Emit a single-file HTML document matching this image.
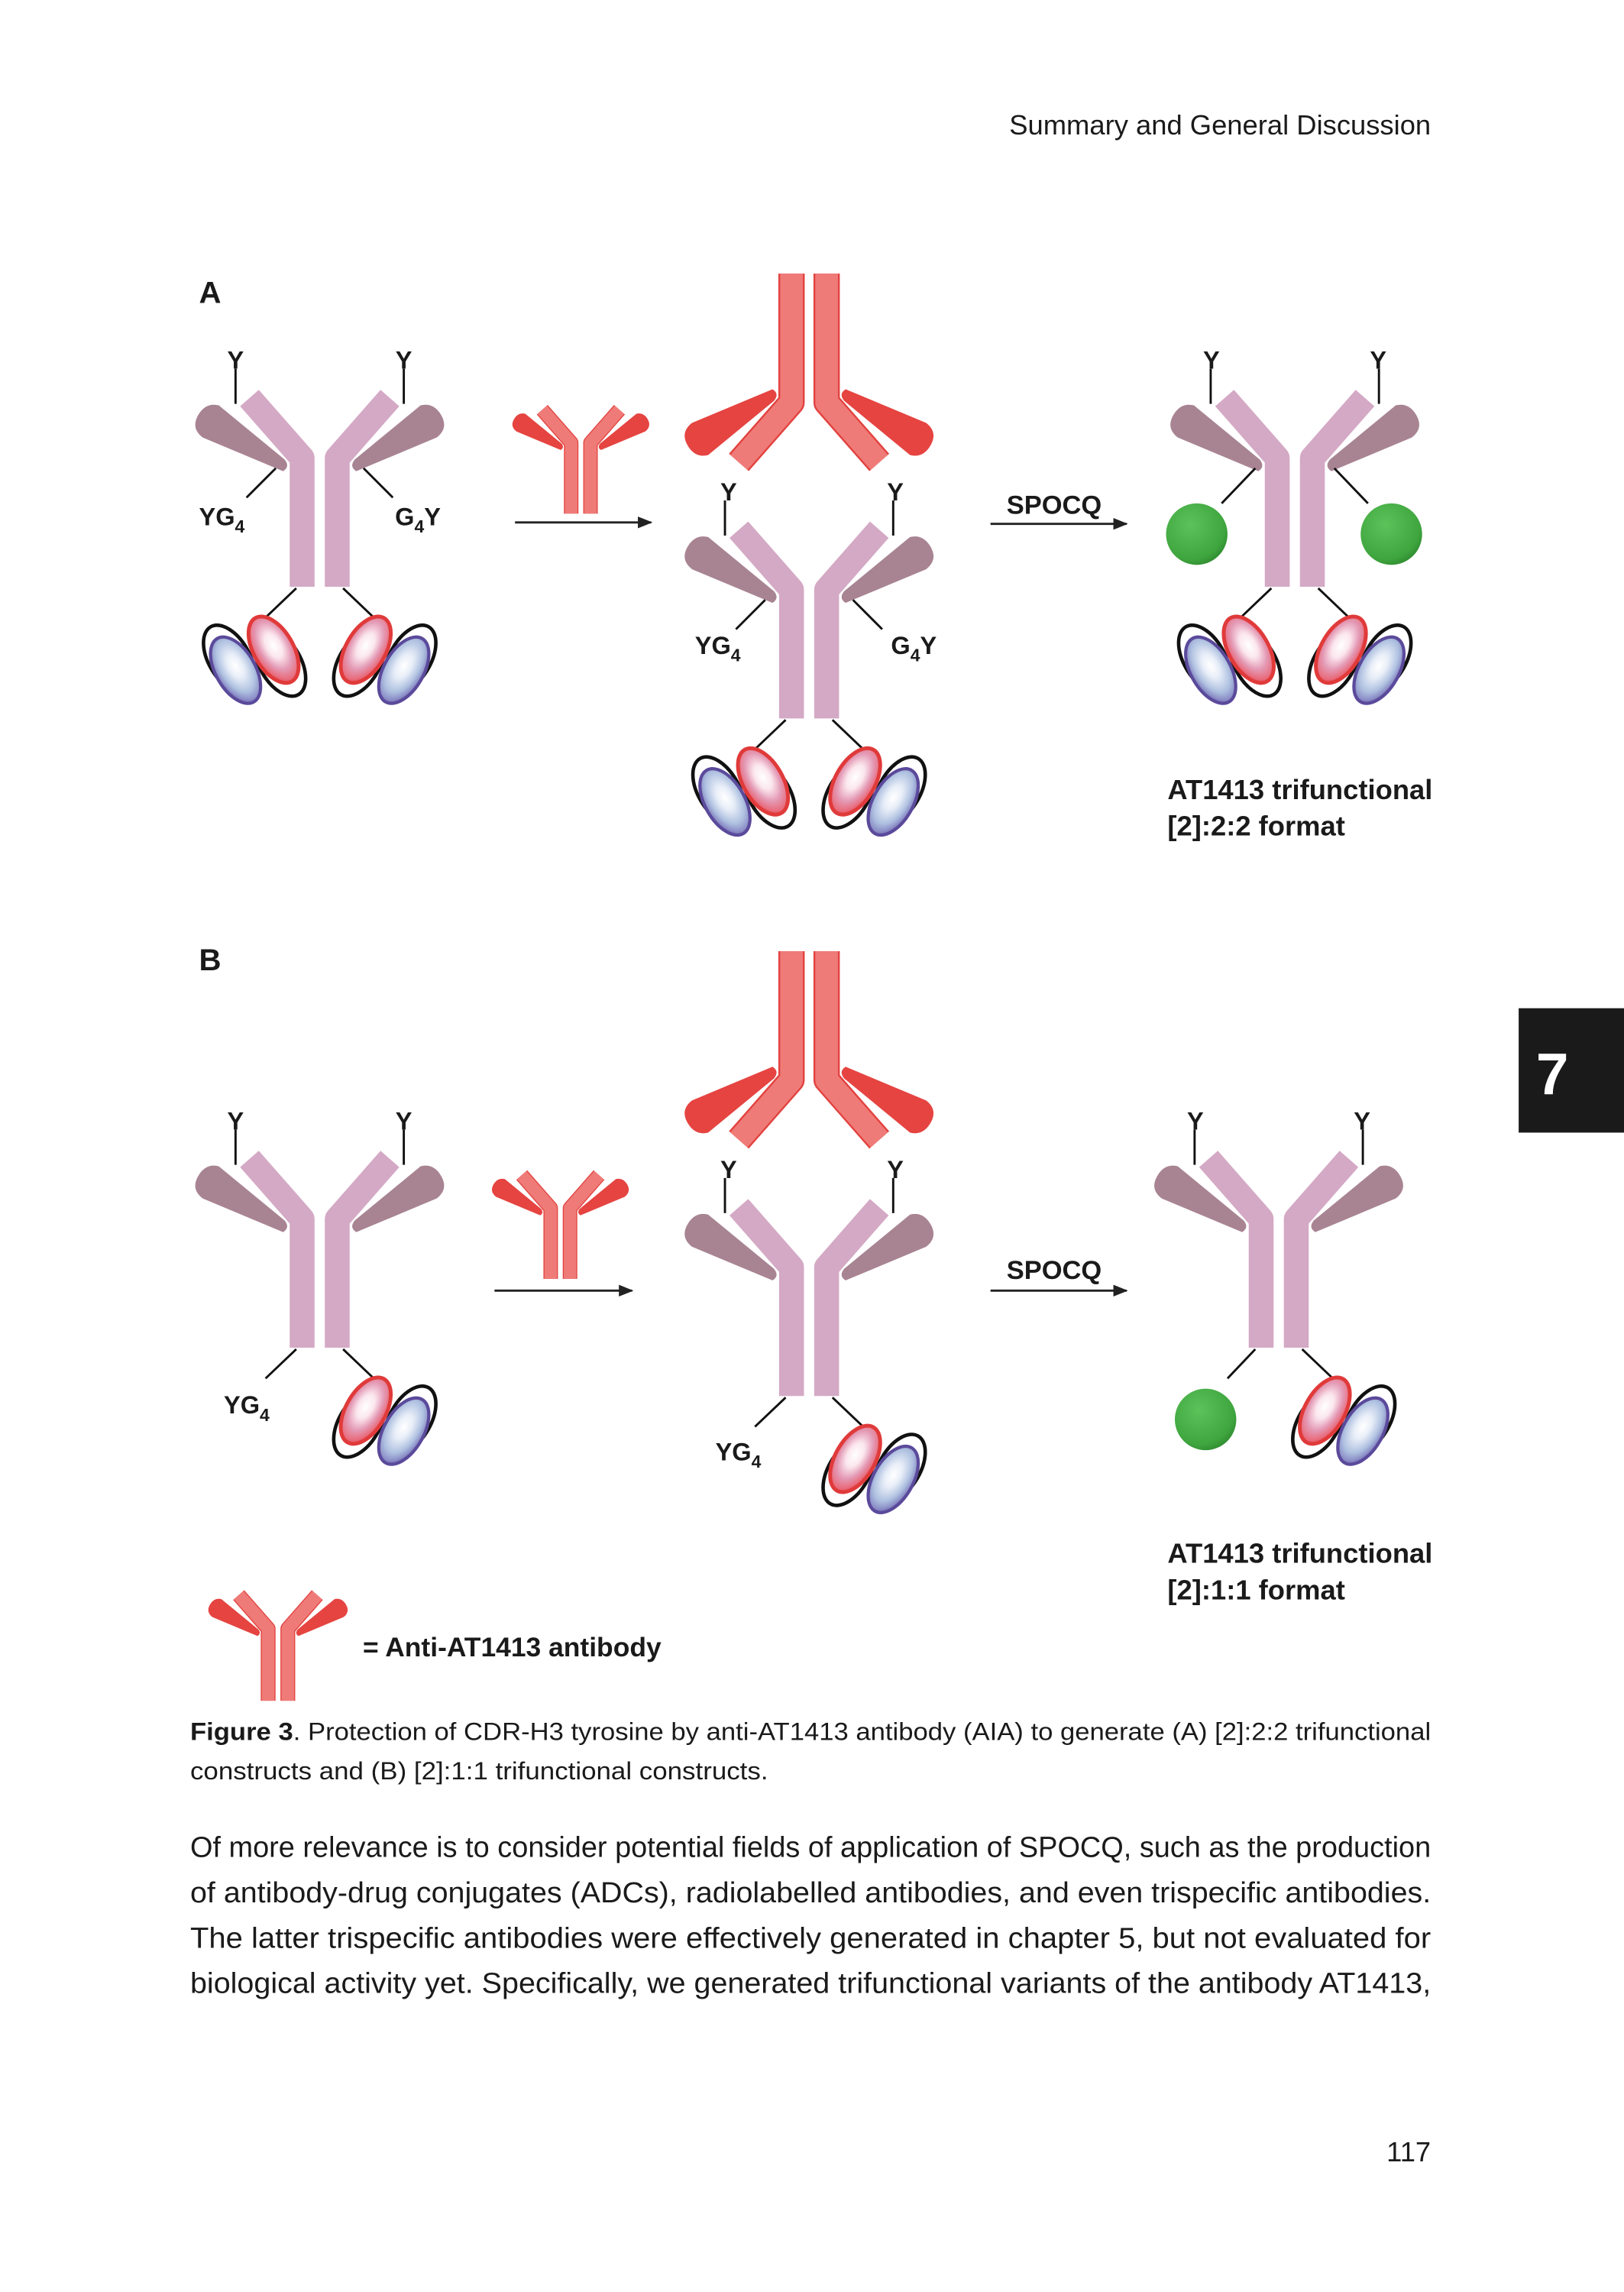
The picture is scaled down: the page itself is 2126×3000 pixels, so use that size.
<!DOCTYPE html>
<html><head><meta charset="utf-8"><style>
html,body{margin:0;padding:0;background:#fff;}
svg{display:block;}
text{font-family:"Liberation Sans",sans-serif;fill:#1a1a1a;}
.b{font-weight:bold;}
</style></head><body>
<svg width="2126" height="3000" viewBox="0 0 1110 1566.3" preserveAspectRatio="none" xmlns="http://www.w3.org/2000/svg">
<defs>
<marker id="ah" markerWidth="10" markerHeight="8" refX="9" refY="4" orient="auto" markerUnits="userSpaceOnUse">
<path d="M0 0 L10 4 L0 8 Z" fill="#222"/></marker>
<radialGradient id="gb" cx="0.4" cy="0.35" r="0.7"><stop offset="0" stop-color="#5cc25a"/><stop offset="0.8" stop-color="#3fa53e"/><stop offset="1" stop-color="#2e8a2f"/></radialGradient>
<radialGradient id="gr" cx="0.45" cy="0.45" r="0.6"><stop offset="0" stop-color="#fff"/><stop offset="0.3" stop-color="#fbe7ee"/><stop offset="0.6" stop-color="#e49ab5"/><stop offset="0.85" stop-color="#e86a7a"/><stop offset="1" stop-color="#e0393a"/></radialGradient>
<radialGradient id="gbl" cx="0.45" cy="0.45" r="0.6"><stop offset="0" stop-color="#fff"/><stop offset="0.3" stop-color="#e8eef8"/><stop offset="0.65" stop-color="#aec0e0"/><stop offset="0.85" stop-color="#8a8cc6"/><stop offset="1" stop-color="#5a4a9a"/></radialGradient>
<path id="lc" d="M -69 5 L -24 42 Q -20 47 -25 50 L -80 27 Q -89 20 -82 10 Q -77 3 -69 5 Z"/>
<g id="pab">
<use href="#lc" fill="#a88492"/>
<use href="#lc" fill="#a88492" transform="scale(-1,1)"/>
<polyline points="-48,0 -12,41 -12,129" fill="none" stroke="#d4a9c5" stroke-width="17" stroke-linejoin="round"/>
<polyline points="48,0 12,41 12,129" fill="none" stroke="#d4a9c5" stroke-width="17" stroke-linejoin="round"/>
</g>
<g id="ylines">
<line x1="-57.5" y1="-20" x2="-57.5" y2="4" stroke="#111" stroke-width="1.5"/>
<line x1="57.5" y1="-20" x2="57.5" y2="4" stroke="#111" stroke-width="1.5"/>
</g>
<g id="rab">
<use href="#lc" fill="#e54441"/>
<use href="#lc" fill="#e54441" transform="scale(-1,1)"/>
<polyline points="-48,0 -12,41 -12,129" fill="none" stroke="#e2423f" stroke-width="18" stroke-linejoin="round"/>
<polyline points="48,0 12,41 12,129" fill="none" stroke="#e2423f" stroke-width="18" stroke-linejoin="round"/>
<polyline points="-48,0 -12,41 -12,129" fill="none" stroke="#ef7b78" stroke-width="15.5" stroke-linejoin="round"/>
<polyline points="48,0 12,41 12,129" fill="none" stroke="#ef7b78" stroke-width="15.5" stroke-linejoin="round"/>
</g>
<g id="scL">
<line x1="-16" y1="130" x2="-37" y2="150" stroke="#111" stroke-width="1.5"/>
<ellipse cx="-62" cy="178" rx="25" ry="14" transform="rotate(60 -62 178)" fill="#fff" stroke="#111" stroke-width="2.4"/>
<ellipse cx="-27" cy="181" rx="25" ry="14" transform="rotate(60 -27 181)" fill="#fff" stroke="#111" stroke-width="2.4"/>
<ellipse cx="-57.5" cy="186" rx="25" ry="13.5" transform="rotate(60 -57.5 186)" fill="url(#gbl)" stroke="#5b4a9b" stroke-width="2.2"/>
<ellipse cx="-31.5" cy="172" rx="25" ry="13.5" transform="rotate(60 -31.5 172)" fill="url(#gr)" stroke="#e03a3a" stroke-width="2.6"/>
</g>
<g id="scR"><use href="#scL" transform="scale(-1,1)"/></g>
</defs>
<rect width="1110" height="1566.3" fill="#fff"/>
<text x="978" y="92" font-size="19" text-anchor="end">Summary and General Discussion</text>
<text x="136" y="207" font-size="21" class="b">A</text>
<text x="136" y="663" font-size="21" class="b">B</text>

<!-- Panel A -->
<g transform="translate(218.5,272)"><use href="#pab"/><use href="#ylines"/><use href="#scL"/><use href="#scR"/>
<line x1="-30" y1="48" x2="-50" y2="68" stroke="#111" stroke-width="1.5"/>
<line x1="30" y1="48" x2="50" y2="68" stroke="#111" stroke-width="1.5"/></g>
<text x="161" y="252" font-size="17" class="b" text-anchor="middle">Y</text>
<text x="276" y="252" font-size="17" class="b" text-anchor="middle">Y</text>
<text x="136" y="359" font-size="17" class="b">YG<tspan font-size="12" dy="5">4</tspan></text>
<text x="270" y="359" font-size="17" class="b">G<tspan font-size="12" dy="5">4</tspan><tspan dy="-5">Y</tspan></text>

<g transform="translate(397,280) scale(0.55)"><use href="#rab"/></g>
<line x1="352" y1="357" x2="445" y2="357" stroke="#222" stroke-width="1.5" marker-end="url(#ah)"/>

<g transform="translate(553,316) scale(1,-1)"><use href="#rab"/></g>
<g transform="translate(553,362)"><use href="#pab"/><use href="#ylines"/><use href="#scL"/><use href="#scR"/>
<line x1="-30" y1="48" x2="-50" y2="68" stroke="#111" stroke-width="1.5"/>
<line x1="30" y1="48" x2="50" y2="68" stroke="#111" stroke-width="1.5"/></g>
<text x="498" y="342" font-size="17" class="b" text-anchor="middle">Y</text>
<text x="612" y="342" font-size="17" class="b" text-anchor="middle">Y</text>
<text x="475" y="447" font-size="17" class="b">YG<tspan font-size="12" dy="5">4</tspan></text>
<text x="609" y="447" font-size="17" class="b">G<tspan font-size="12" dy="5">4</tspan><tspan dy="-5">Y</tspan></text>

<text x="688" y="351" font-size="18" class="b">SPOCQ</text>
<line x1="677" y1="358" x2="770" y2="358" stroke="#222" stroke-width="1.5" marker-end="url(#ah)"/>

<g transform="translate(885,272)"><use href="#pab"/><use href="#ylines"/><use href="#scL"/><use href="#scR"/>
<line x1="-27" y1="48" x2="-50" y2="72" stroke="#111" stroke-width="1.5"/>
<line x1="27" y1="48" x2="50" y2="72" stroke="#111" stroke-width="1.5"/>
<circle cx="-67" cy="93" r="21" fill="url(#gb)"/>
<circle cx="66" cy="93" r="21" fill="url(#gb)"/></g>
<text x="828" y="252" font-size="17" class="b" text-anchor="middle">Y</text>
<text x="942" y="252" font-size="17" class="b" text-anchor="middle">Y</text>
<text x="798" y="546" font-size="19" class="b">AT1413 trifunctional</text>
<text x="798" y="571" font-size="19" class="b">[2]:2:2 format</text>

<!-- Panel B -->
<g transform="translate(218.5,792)"><use href="#pab"/><use href="#ylines"/><use href="#scR"/>
<line x1="-16" y1="130" x2="-37" y2="150" stroke="#111" stroke-width="1.5"/></g>
<text x="161" y="772" font-size="17" class="b" text-anchor="middle">Y</text>
<text x="276" y="772" font-size="17" class="b" text-anchor="middle">Y</text>
<text x="153" y="966" font-size="17" class="b">YG<tspan font-size="12" dy="5">4</tspan></text>

<g transform="translate(383,803) scale(0.55)"><use href="#rab"/></g>
<line x1="338" y1="882" x2="432" y2="882" stroke="#222" stroke-width="1.5" marker-end="url(#ah)"/>

<g transform="translate(553,779) scale(1,-1)"><use href="#rab"/></g>
<g transform="translate(553,825)"><use href="#pab"/><use href="#ylines"/><use href="#scR"/>
<line x1="-16" y1="130" x2="-37" y2="150" stroke="#111" stroke-width="1.5"/></g>
<text x="498" y="805" font-size="17" class="b" text-anchor="middle">Y</text>
<text x="612" y="805" font-size="17" class="b" text-anchor="middle">Y</text>
<text x="489" y="998" font-size="17" class="b">YG<tspan font-size="12" dy="5">4</tspan></text>

<text x="688" y="874" font-size="18" class="b">SPOCQ</text>
<line x1="677" y1="882" x2="770" y2="882" stroke="#222" stroke-width="1.5" marker-end="url(#ah)"/>

<g transform="translate(874,792)"><use href="#pab"/><use href="#ylines"/><use href="#scR"/>
<line x1="-16" y1="130" x2="-35" y2="150" stroke="#111" stroke-width="1.5"/>
<circle cx="-50" cy="178" r="21" fill="url(#gb)"/></g>
<text x="817" y="772" font-size="17" class="b" text-anchor="middle">Y</text>
<text x="931" y="772" font-size="17" class="b" text-anchor="middle">Y</text>
<text x="798" y="1068" font-size="19" class="b">AT1413 trifunctional</text>
<text x="798" y="1093" font-size="19" class="b">[2]:1:1 format</text>

<!-- legend -->
<g transform="translate(190,1090) scale(0.56)"><use href="#rab"/></g>
<text x="248" y="1132" font-size="18.5" class="b">= Anti-AT1413 antibody</text>

<text x="130" y="1189" font-size="17" textLength="848" lengthAdjust="spacingAndGlyphs"><tspan class="b">Figure 3</tspan>. Protection of CDR-H3 tyrosine by anti-AT1413 antibody (AIA) to generate (A) [2]:2:2 trifunctional</text>
<text x="130" y="1216" font-size="17" textLength="395" lengthAdjust="spacingAndGlyphs">constructs and (B) [2]:1:1 trifunctional constructs.</text>

<text x="130" y="1269" font-size="20" textLength="848" lengthAdjust="spacingAndGlyphs">Of more relevance is to consider potential fields of application of SPOCQ, such as the production</text>
<text x="130" y="1300" font-size="20" textLength="848" lengthAdjust="spacingAndGlyphs">of antibody-drug conjugates (ADCs), radiolabelled antibodies, and even trispecific antibodies.</text>
<text x="130" y="1331" font-size="20" textLength="848" lengthAdjust="spacingAndGlyphs">The latter trispecific antibodies were effectively generated in chapter 5, but not evaluated for</text>
<text x="130" y="1362" font-size="20" textLength="848" lengthAdjust="spacingAndGlyphs">biological activity yet. Specifically, we generated trifunctional variants of the antibody AT1413,</text>

<text x="978" y="1477" font-size="19" text-anchor="end">117</text>

<rect x="1038" y="689" width="72" height="85" fill="#1a1a1a"/>
<text x="1061" y="748" font-size="40" class="b" text-anchor="middle" style="fill:#fff">7</text>
</svg>
</body></html>
